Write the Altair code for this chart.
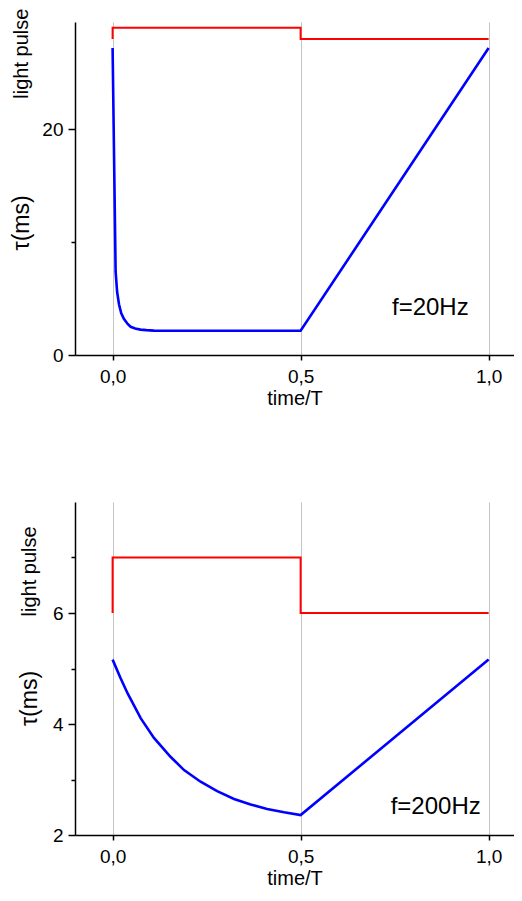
import altair as alt
import pandas as pd

FONT = "Liberation Sans"

# ---------- top panel: f = 20 Hz ----------
t_blue_20 = [0.0, 0.008, 0.012, 0.017, 0.023, 0.030, 0.040, 0.048, 0.060, 0.074, 0.090, 0.110, 0.150, 0.500, 1.000]
tau_20 = [27.2, 7.4, 5.6, 4.5, 3.7, 3.2, 2.75, 2.5, 2.35, 2.25, 2.2, 2.16, 2.15, 2.15, 27.2]
t_red_20 = [0.0, 0.0, 0.5, 0.5, 1.0]
pulse_20 = [28.0, 29.0, 29.0, 28.0, 28.0]
y_ticks_20 = [0, 10, 20]
y_major_20 = [0, 20]
y_domain_20 = [0, 29.5]

# ---------- bottom panel: f = 200 Hz ----------
t_blue_200 = [0.0, 0.021, 0.040, 0.075, 0.110, 0.154, 0.190, 0.234, 0.278, 0.323, 0.367, 0.411, 0.456, 0.500, 1.000]
tau_200 = [5.16, 4.83, 4.55, 4.10, 3.75, 3.41, 3.17, 2.96, 2.79, 2.65, 2.55, 2.47, 2.41, 2.36, 5.16]
t_red_200 = [0.0, 0.0, 0.5, 0.5, 1.0]
pulse_200 = [6.0, 7.0, 7.0, 6.0, 6.0]
y_ticks_200 = [2, 3, 4, 5, 6, 7]
y_major_200 = [2, 4, 6]
y_domain_200 = [2, 8]

x_ticks = [0.0, 0.5, 1.0]
x_domain = [-0.1, 1.0675]

# annotation texts (data coordinates)
freq_labels = ["f=20Hz", "f=200Hz"]
freq_t = [0.947, 0.979]
freq_v = [3.5, 2.375]
side_t = [-0.24, -0.22]
pulse_label_v = [26.7, 6.75]
tau_label_v = [11.7, 4.46]


def panel(tb, tv, tr, pv, yticks, ymajor, ydomain, idx):
    blue_df = pd.DataFrame({"t": tb, "v": tv, "o": list(range(len(tb)))})
    red_df = pd.DataFrame({"t": tr, "v": pv, "o": list(range(len(tr)))})
    major = "[" + ",".join(str(m) for m in ymajor) + "]"

    x = alt.X(
        "t:Q",
        scale=alt.Scale(domain=x_domain, nice=False, zero=False),
        axis=alt.Axis(
            values=x_ticks,
            labelExpr="replace(format(datum.value, '.1f'), '.', ',')",
            title="time/T",
            grid=True,
            gridColor="#c4c4c4",
            gridWidth=1,
            domainColor="black",
            domainWidth=1.5,
            tickColor="black",
            tickWidth=1.5,
            tickSize=5,
            labelFont=FONT,
            labelFontSize=19,
            labelColor="black",
            labelPadding=7,
            titleFont=FONT,
            titleFontSize=20,
            titleFontWeight="normal",
            titleColor="black",
            titlePadding=2,
        ),
    )
    y = alt.Y(
        "v:Q",
        scale=alt.Scale(domain=ydomain, nice=False, zero=False),
        axis=alt.Axis(
            values=yticks,
            labelExpr=f"indexof({major}, datum.value) >= 0 ? datum.label : ''",
            tickSize={"condition": {"test": f"indexof({major}, datum.value) >= 0", "value": 7}, "value": 4},
            title=None,
            grid=False,
            domainColor="black",
            domainWidth=1.5,
            tickColor="black",
            tickWidth=1.5,
            labelFont=FONT,
            labelFontSize=19,
            labelColor="black",
            labelPadding=5,
        ),
    )

    red = alt.Chart(red_df).mark_line(color="#ff0000", strokeWidth=2).encode(x=x, y=y, order="o:Q")
    blue = alt.Chart(blue_df).mark_line(color="#0000ff", strokeWidth=2.6).encode(x=x, y=y, order="o:Q")

    freq_df = pd.DataFrame({"t": [freq_t[idx]], "v": [freq_v[idx]], "txt": [freq_labels[idx]]})
    freq = alt.Chart(freq_df).mark_text(
        align="right", baseline="alphabetic", font=FONT, fontSize=24, color="black"
    ).encode(x=x, y=y, text="txt:N")

    pulse_df = pd.DataFrame({"t": [side_t[idx]], "v": [pulse_label_v[idx]], "txt": ["light pulse"]})
    pulse_txt = alt.Chart(pulse_df).mark_text(
        angle=270, align="center", baseline="middle", font=FONT, fontSize=20, color="black"
    ).encode(x=x, y=y, text="txt:N")

    tau_df = pd.DataFrame({"t": [side_t[idx]], "v": [tau_label_v[idx]], "txt": ["τ(ms)"]})
    tau_txt = alt.Chart(tau_df).mark_text(
        angle=270, align="center", baseline="middle", font=FONT, fontSize=23, color="black"
    ).encode(x=x, y=y, text="txt:N")

    return alt.layer(red, blue, freq, pulse_txt, tau_txt).properties(width=439, height=333)


top = panel(t_blue_20, tau_20, t_red_20, pulse_20, y_ticks_20, y_major_20, y_domain_20, 0)
bottom = panel(t_blue_200, tau_200, t_red_200, pulse_200, y_ticks_200, y_major_200, y_domain_200, 1)

chart = (
    alt.vconcat(top, bottom, spacing=147, bounds="flush")
    .properties(padding={"left": 3, "top": 0, "right": 0, "bottom": 0}, background="white")
    .configure_view(strokeWidth=0)
)

chart.save("out.html", embed_options={"renderer": "svg", "actions": False})
